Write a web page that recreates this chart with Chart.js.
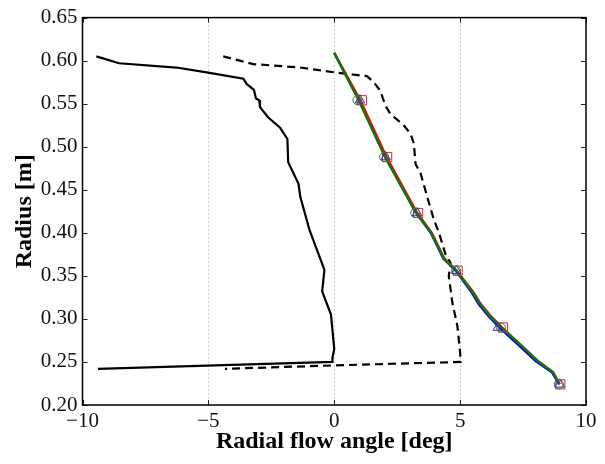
<!DOCTYPE html>
<html>
<head>
<meta charset="utf-8">
<script src="https://cdn.jsdelivr.net/npm/chart.js@4/dist/chart.umd.min.js"></script>
<style>
  html, body { margin: 0; padding: 0; background: #fff; }
  #wrap { width: 605px; height: 464px; }
</style>
</head>
<body>
<div id="wrap"><canvas id="chart"></canvas></div>
<script>
// Datos (ángulo en grados, radio en m)
const solidAngle  = [-9.45, -8.55, -6.27, -5.01, -3.61, -3.48, -3.19, -3.11, -2.98, -2.95, -2.62, -2.15, -1.86, -1.83, -1.42, -1.35, -0.98, -0.39, -0.48, -0.13, 0.00, -0.07, -0.07, -9.39];
const solidRadius = [0.605, 0.597, 0.592, 0.586, 0.579, 0.573, 0.566, 0.556, 0.554, 0.546, 0.534, 0.522, 0.509, 0.482, 0.457, 0.442, 0.403, 0.357, 0.332, 0.305, 0.265, 0.255, 0.250, 0.242];

const dashedAngle  = [-4.41, -3.22, -1.35, 0.11, 1.30, 1.57, 1.83, 2.03, 2.23, 2.76, 3.03, 3.16, 3.23, 3.43, 3.69, 3.96, 4.16, 4.42, 4.62, 4.55, 4.69, 4.89, 5.00, 5.02, -0.03, -4.34];
const dashedRadius = [0.605, 0.596, 0.592, 0.586, 0.582, 0.575, 0.565, 0.548, 0.538, 0.525, 0.515, 0.504, 0.480, 0.469, 0.442, 0.415, 0.400, 0.375, 0.365, 0.350, 0.319, 0.292, 0.261, 0.250, 0.246, 0.242];

const lineRadius  = [0.609, 0.554, 0.488, 0.423, 0.400, 0.370, 0.356, 0.331, 0.317, 0.303, 0.290, 0.270, 0.251, 0.238, 0.224];
const redAngle    = [0.00, 1.04, 2.08, 3.30, 3.88, 4.38, 4.87, 5.53, 5.83, 6.23, 6.67, 7.41, 8.10, 8.70, 8.96];
const blueAngle   = [0.00, 0.98, 2.02, 3.25, 3.83, 4.33, 4.82, 5.45, 5.74, 6.13, 6.55, 7.30, 8.00, 8.64, 8.93];
const greenAngle  = [0.00, 0.97, 2.02, 3.25, 3.85, 4.35, 4.85, 5.50, 5.80, 6.20, 6.64, 7.39, 8.08, 8.69, 8.95];

// Marcadores (cada ~8 puntos en la figura original)
const markerRadius = [0.554, 0.488, 0.423, 0.356, 0.290, 0.224];
const redMarkAngle   = [1.10, 2.10, 3.33, 4.90, 6.70, 8.98];
const blueMarkAngle  = [1.02, 2.04, 3.29, 4.85, 6.50, 8.95];
const greenMarkAngle = [0.92, 1.98, 3.22, 4.84, 6.62, 8.92];

const xTicks = [-10, -5, 0, 5, 10];
const yTicks = [0.20, 0.25, 0.30, 0.35, 0.40, 0.45, 0.50, 0.55, 0.60, 0.65];

const pts = (xs, ys) => xs.map((x, i) => ({ x: x, y: ys[i] }));

const FONT = '"Liberation Serif", "Times New Roman", serif';

// Marco y marcas interiores estilo matplotlib
const frameTicks = {
  id: 'frameTicks',
  afterDatasetsDraw(chart) {
    const { ctx, chartArea: a, scales } = chart;
    ctx.save();
    ctx.strokeStyle = '#222';
    ctx.lineWidth = 1;
    const len = 5;
    ctx.beginPath();
    xTicks.forEach(v => {
      const px = Math.round(scales.x.getPixelForValue(v)) + 0.5;
      ctx.moveTo(px, a.bottom); ctx.lineTo(px, a.bottom - len);
      ctx.moveTo(px, a.top); ctx.lineTo(px, a.top + len);
    });
    yTicks.forEach(v => {
      const py = Math.round(scales.y.getPixelForValue(v)) + 0.5;
      ctx.moveTo(a.left, py); ctx.lineTo(a.left + len, py);
      ctx.moveTo(a.right, py); ctx.lineTo(a.right - len, py);
    });
    ctx.stroke();
    ctx.lineWidth = 1.5;
    ctx.strokeStyle = '#000';
    ctx.strokeRect(a.left, a.top, a.right - a.left, a.bottom - a.top);
    ctx.restore();
  }
};

new Chart(document.getElementById('chart'), {
  type: 'scatter',
  data: {
    datasets: [
      { data: pts(greenMarkAngle, markerRadius), showLine: false, pointStyle: 'circle', pointRadius: 4.5,
        borderColor: '#1a8a1a', backgroundColor: 'rgba(0,0,0,0)', borderWidth: 1 },
      { data: pts(blueMarkAngle, markerRadius), showLine: false, pointStyle: 'triangle', pointRadius: 5.5,
        borderColor: '#2222ee', backgroundColor: 'rgba(0,0,0,0)', borderWidth: 1 },
      { data: pts(redMarkAngle, markerRadius), showLine: false, pointStyle: 'rect', pointRadius: 6.5,
        borderColor: '#ee2222', backgroundColor: 'rgba(0,0,0,0)', borderWidth: 1 },
      { data: pts(greenAngle, lineRadius), showLine: true, borderColor: '#0a7a0a', borderWidth: 2.4, pointRadius: 0 },
      { data: pts(redAngle, lineRadius), showLine: true, borderColor: '#ff0000', borderWidth: 2.2, pointRadius: 0 },
      { data: pts(blueAngle, lineRadius), showLine: true, borderColor: '#0000ff', borderWidth: 2.2, pointRadius: 0 },
      { data: pts(dashedAngle, dashedRadius), showLine: true, borderColor: '#000', borderWidth: 2.2,
        borderDash: [8, 5], pointRadius: 0 },
      { data: pts(solidAngle, solidRadius), showLine: true, borderColor: '#000', borderWidth: 2.2, pointRadius: 0 }
    ]
  },
  options: {
    responsive: true,
    maintainAspectRatio: false,
    animation: false,
    layout: { padding: { top: 16, right: 19, left: 0, bottom: 0 } },
    plugins: { legend: { display: false }, tooltip: { enabled: false } },
    elements: { line: { tension: 0 } },
    scales: {
      x: {
        type: 'linear', min: -10, max: 10,
        afterBuildTicks: s => { s.ticks = xTicks.map(v => ({ value: v })); },
        afterFit: s => { s.height = 59; },
        border: { display: false, dash: [1, 3] },
        grid: {
          drawTicks: false,
          color: c => (c.tick && Math.abs(c.tick.value) < 10) ? '#999' : 'rgba(0,0,0,0)',
          lineWidth: 1
        },
        ticks: {
          padding: 4, color: '#111',
          font: { family: FONT, size: 21 },
          callback: v => String(v).replace('-', '\u2212')
        },
        title: {
          display: true, text: 'Radial flow angle [deg]', color: '#000',
          font: { family: FONT, size: 24, weight: 'bold' }, padding: { top: 0, bottom: 8 }
        }
      },
      y: {
        type: 'linear', min: 0.20, max: 0.65,
        afterBuildTicks: s => { s.ticks = yTicks.map(v => ({ value: v })); },
        afterFit: s => { s.width = 82.5; },
        border: { display: false },
        grid: { display: false, drawTicks: false },
        ticks: {
          padding: 5, color: '#111',
          font: { family: FONT, size: 21 },
          callback: v => Number(v).toFixed(2)
        },
        title: {
          display: true, text: 'Radius [m]', color: '#000',
          font: { family: FONT, size: 24, weight: 'bold' }, padding: { top: 10, bottom: 0 }
        }
      }
    }
  },
  plugins: [frameTicks]
});
</script>
</body>
</html>
